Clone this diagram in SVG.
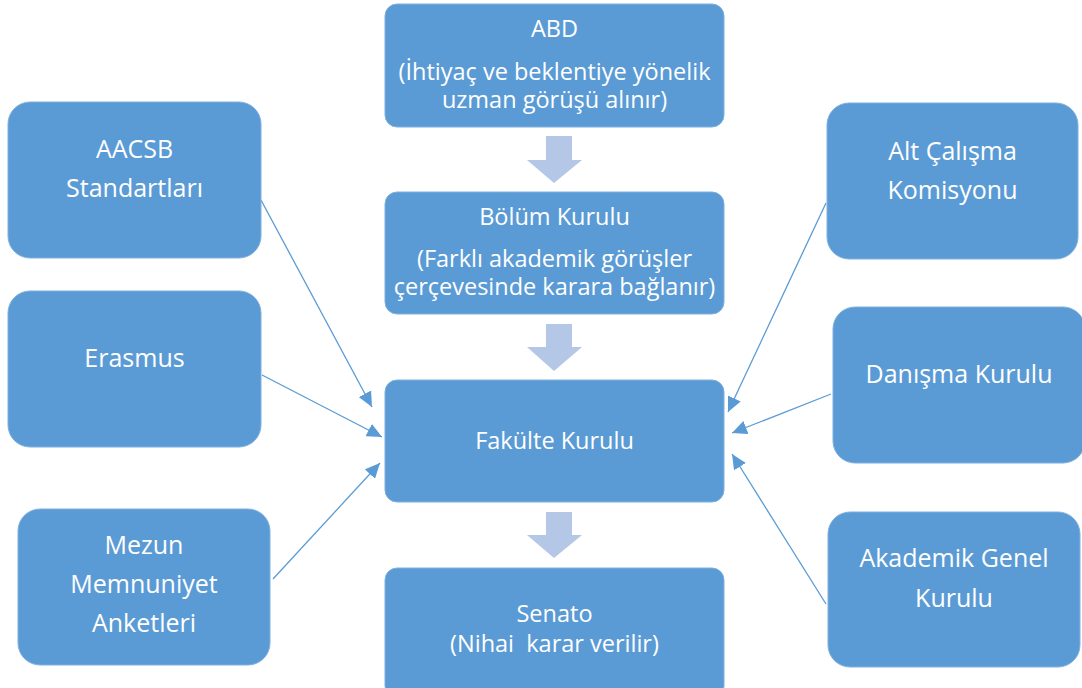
<svg xmlns="http://www.w3.org/2000/svg" width="1082" height="688" viewBox="0 0 1082 688">
<style>
.box{fill:#5B9BD5;stroke:#7FB0DE;stroke-width:1}
.chev{fill:#B4C7E7}
.t{font-family:"Open Sans","Liberation Sans",sans-serif;fill:#ffffff;text-anchor:middle}
.c{font-size:23.5px}
.s{font-size:25px}
.con{stroke:#5B9BD5;stroke-width:1.3;fill:none;marker-end:url(#ah)}
</style>
<defs>
<marker id="ah" markerUnits="userSpaceOnUse" markerWidth="16" markerHeight="14" refX="15" refY="7" orient="auto">
<path d="M0,0 L15,7 L0,14 z" fill="#5B9BD5"/>
</marker>
</defs>
<rect width="1082" height="688" fill="#ffffff"/>
<g id="chevrons">
<path class="chev" d="M546,136 H572 V160 H582 L554,183 L527,160 H546 Z"/>
<path class="chev" d="M546,324 H572 V347 H582 L554,371 L527,347 H546 Z"/>
<path class="chev" d="M546,512 H572 V535 H582 L554,558 L527,535 H546 Z"/>
</g>
<g id="connectors">
<line class="con" x1="261" y1="200" x2="372" y2="407"/>
<line class="con" x1="262" y1="375" x2="382" y2="437"/>
<line class="con" x1="273" y1="579" x2="380" y2="463"/>
<line class="con" x1="826" y1="203" x2="728" y2="412"/>
<line class="con" x1="831" y1="394" x2="732" y2="433"/>
<line class="con" x1="826" y1="604" x2="732" y2="454"/>
</g>
<g id="abd">
<rect class="box" x="385" y="4" width="339" height="123" rx="12"/>
<text class="t c" x="554.5" y="37">ABD</text>
<text class="t c" x="554.5" y="80">(İhtiyaç ve beklentiye yönelik</text>
<text class="t c" x="554.5" y="108">uzman görüşü alınır)</text>
</g>
<g id="bolum">
<rect class="box" x="385" y="192" width="339" height="122" rx="12"/>
<text class="t c" x="554.5" y="225">Bölüm Kurulu</text>
<text class="t c" x="554.5" y="267">(Farklı akademik görüşler</text>
<text class="t c" x="554.5" y="295">çerçevesinde karara bağlanır)</text>
</g>
<g id="fakulte">
<rect class="box" x="385" y="380" width="339" height="122" rx="12"/>
<text class="t c" x="554.5" y="449">Fakülte Kurulu</text>
</g>
<g id="senato">
<rect class="box" x="385" y="568" width="339" height="130" rx="12"/>
<text class="t c" x="554.5" y="622">Senato</text>
<text class="t c" x="554.5" y="652" xml:space="preserve">(Nihai  karar verilir)</text>
</g>
<g id="aacsb">
<rect class="box" x="8" y="102" width="253" height="156" rx="22"/>
<text class="t s" x="134.5" y="158">AACSB</text>
<text class="t s" x="134.5" y="197">Standartları</text>
</g>
<g id="erasmus">
<rect class="box" x="8" y="291" width="253" height="156" rx="22"/>
<text class="t s" x="134.5" y="367">Erasmus</text>
</g>
<g id="mezun">
<rect class="box" x="18" y="509" width="252" height="156" rx="22"/>
<text class="t s" x="144" y="554">Mezun</text>
<text class="t s" x="144" y="593">Memnuniyet</text>
<text class="t s" x="144" y="632">Anketleri</text>
</g>
<g id="alt">
<rect class="box" x="827" y="103" width="251" height="156" rx="22"/>
<text class="t s" x="952.5" y="160">Alt Çalışma</text>
<text class="t s" x="952.5" y="199">Komisyonu</text>
</g>
<g id="danisma">
<rect class="box" x="833" y="307" width="252" height="156" rx="22"/>
<text class="t s" x="959" y="383">Danışma Kurulu</text>
</g>
<g id="akademik">
<rect class="box" x="828" y="512" width="252" height="155" rx="22"/>
<text class="t s" x="954" y="567">Akademik Genel</text>
<text class="t s" x="954" y="607">Kurulu</text>
</g>
</svg>
